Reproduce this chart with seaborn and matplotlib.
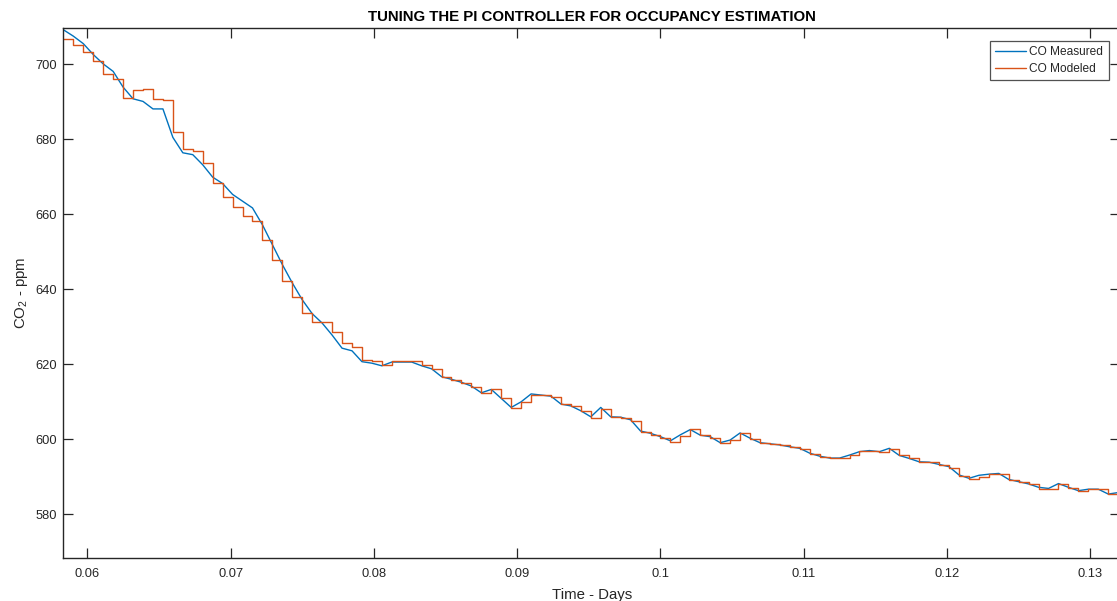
import numpy as np
import pandas as pd
import matplotlib
matplotlib.use("Agg")
import matplotlib.pyplot as plt
import seaborn as sns

# ---- data ----
minutes = [84, 85, 86, 87, 88, 89, 90, 91, 92, 93, 94, 95, 96, 97, 98, 99,
           100, 101, 102, 103, 104, 105, 106, 107, 108, 109, 110, 111, 112, 113,
           114, 115, 116, 117, 118, 119, 120, 121, 122, 123, 124, 125, 126, 127,
           128, 129, 130, 131, 132, 133, 134, 135, 136, 137, 138, 139, 140, 141,
           142, 143, 144, 145, 146, 147, 148, 149, 150, 151, 152, 153, 154, 155,
           156, 157, 158, 159, 160, 161, 162, 163, 164, 165, 166, 167, 168, 169,
           170, 171, 172, 173, 174, 175, 176, 177, 178, 179, 180, 181, 182, 183,
           184, 185, 186, 187, 188, 189, 190]

co_measured = [709.2, 707.5, 705.5, 702.6, 700.1, 698.1, 693.9, 690.8, 690.1, 688.1,
               688.1, 680.5, 676.4, 675.9, 673.2, 669.9, 668.2, 665.3, 663.5, 661.7,
               657.2, 651.9, 646.6, 641.7, 637.2, 633.5, 631.0, 627.8, 624.3, 623.6,
               620.7, 620.3, 619.6, 620.6, 620.6, 620.6, 619.6, 618.8, 616.7, 616.0,
               615.2, 614.2, 612.4, 613.3, 610.9, 608.5, 610.0, 612.1, 611.8, 611.5,
               609.4, 608.9, 607.6, 606.0, 608.5, 606.0, 605.9, 605.2, 602.2, 601.6,
               600.7, 599.6, 601.2, 602.6, 601.1, 600.7, 599.1, 599.8, 601.7, 600.3,
               599.1, 598.8, 598.5, 598.0, 597.6, 596.3, 595.5, 595.0, 595.0, 595.8,
               596.7, 597.0, 596.7, 597.6, 595.7, 594.9, 594.0, 593.9, 593.3, 592.7,
               590.5, 589.6, 590.4, 590.7, 590.9, 589.3, 588.7, 588.1, 587.2, 586.9,
               588.2, 587.2, 586.3, 586.7, 586.7, 585.4, 585.8]

co_modeled = [706.7, 705.1, 703.4, 700.9, 697.4, 696.2, 691.0, 693.1, 693.5, 690.8,
              690.6, 682.0, 677.3, 676.8, 673.6, 668.4, 664.5, 661.9, 659.5, 658.3,
              653.2, 647.7, 642.1, 638.0, 633.8, 631.3, 631.3, 628.7, 625.6, 624.7,
              621.1, 620.8, 619.8, 620.9, 620.9, 620.9, 619.7, 618.8, 616.5, 615.8,
              614.9, 614.0, 612.3, 613.3, 611.0, 608.3, 609.9, 611.9, 611.7, 611.4,
              609.3, 608.9, 607.6, 605.8, 608.2, 606.0, 605.6, 605.0, 602.0, 601.2,
              600.3, 599.2, 600.9, 602.7, 601.1, 600.4, 598.9, 599.8, 601.6, 600.1,
              599.1, 598.7, 598.4, 597.9, 597.5, 596.0, 595.4, 594.9, 594.9, 595.8,
              596.9, 597.0, 596.7, 597.5, 595.7, 594.9, 593.9, 593.9, 593.2, 592.3,
              590.2, 589.5, 590.0, 590.7, 590.7, 589.1, 588.6, 588.1, 586.7, 586.7,
              588.2, 587.1, 586.2, 586.7, 586.7, 585.4, 585.4]

x_ticks = [0.06, 0.07, 0.08, 0.09, 0.10, 0.11, 0.12, 0.13]
x_tick_labels = ["0.06", "0.07", "0.08", "0.09", "0.1", "0.11", "0.12", "0.13"]
y_ticks = [580, 600, 620, 640, 660, 680, 700]

title = "TUNING THE PI CONTROLLER FOR OCCUPANCY ESTIMATION"
xlabel = "Time - Days"
ylabel = "CO$_2$ - ppm"
legend_labels = ["CO Measured", "CO Modeled"]

# ---- build frame ----
days = np.array(minutes) / 1440.0
df = pd.DataFrame({"t": days, "measured": co_measured, "modeled": co_modeled})

sns.set_theme(style="white")
plt.rcParams["font.family"] = ["Liberation Sans", "DejaVu Sans"]
plt.rcParams["mathtext.fontset"] = "custom"
plt.rcParams["mathtext.rm"] = "Liberation Sans"
plt.rcParams["mathtext.it"] = "Liberation Sans"

fig = plt.figure(figsize=(11.17, 6.01), dpi=100)
W, H = 1117.0, 601.0
left_px, right_px, top_px, bot_px = 63.3, 1120.0, 27.5, 558.0
ax = fig.add_axes([left_px / W, (H - bot_px) / H, (right_px - left_px) / W, (bot_px - top_px) / H])

blue = "#0072BD"
orange = "#D95319"
sns.lineplot(data=df, x="t", y="measured", ax=ax, color=blue, linewidth=1.0,
             label=legend_labels[0], estimator=None, sort=False)
sns.lineplot(data=df, x="t", y="modeled", ax=ax, color=orange, linewidth=1.0,
             label=legend_labels[1], estimator=None, sort=False, drawstyle="steps-post")

ax.set_xlim(0.058325, 0.13207)
ax.set_ylim(568.35, 709.81)
ax.set_xticks(x_ticks)
ax.set_xticklabels(x_tick_labels)
ax.set_yticks(y_ticks)

dark = "#262626"
for s in ax.spines.values():
    s.set_visible(True)
    s.set_color(dark)
    s.set_linewidth(1.0)
ax.tick_params(axis="both", which="major", direction="in", length=7.2, width=0.9,
               color=dark, labelcolor=dark, labelsize=9.3,
               top=True, right=True, bottom=True, left=True)
ax.tick_params(axis="x", pad=7.4)
ax.tick_params(axis="y", pad=4.3)

ax.set_title(title, fontsize=10.8, fontweight="bold", color="black", pad=4.6)
ax.set_xlabel(xlabel, fontsize=10.8, color=dark, labelpad=5.5)
ax.set_ylabel(ylabel, fontsize=10.8, color=dark, labelpad=4)

leg = ax.legend(loc="upper right",
                bbox_to_anchor=((1108.5 - left_px) / (right_px - left_px),
                                1 - (40.7 - top_px) / (bot_px - top_px)),
                fontsize=8.6, frameon=True, fancybox=False, handlelength=2.55,
                handletextpad=0.3, borderpad=0.45, labelspacing=0.42, borderaxespad=0)
leg.get_frame().set_edgecolor(dark)
leg.get_frame().set_linewidth(0.9)
for t in leg.get_texts():
    t.set_color(dark)

fig.savefig("out.png", dpi=100)
